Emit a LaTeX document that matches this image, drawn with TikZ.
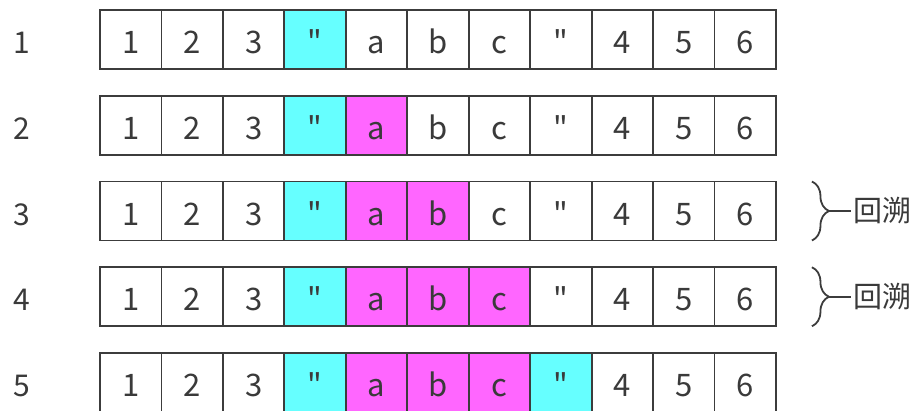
\documentclass[tikz,border=0pt]{standalone}
\usepackage{fontspec}
\newfontfamily\cellfont{Noto Sans CJK SC}
\usetikzlibrary{positioning,decorations.pathreplacing}
\definecolor{quotecyan}{HTML}{66FFFF}
\definecolor{pickpink}{HTML}{FF66FF}
\definecolor{linegray}{HTML}{3C3C3C}
\definecolor{textgray}{HTML}{3A3A3A}

\begin{document}
\begin{tikzpicture}[
  x=1pt,y=-1pt,
  cell/.style={draw=linegray,line width=1.8pt,minimum width=61.45pt,minimum height=59pt,
    inner sep=0pt,outer sep=0pt,text height=28pt,text depth=0pt,text=textgray,
    font=\cellfont\fontsize{31}{36}\selectfont},
  rowno/.style={inner sep=0pt,text height=28pt,text depth=0pt,text=textgray,
    font=\cellfont\fontsize{30}{36}\selectfont},
  tag/.style={inner sep=2pt,text=textgray,font=\cellfont\fontsize{29}{34}\selectfont},
  brace/.style={decorate,decoration={brace,amplitude=17pt},draw=linegray,line width=1.8pt},
  link/.style={draw=linegray,line width=1.8pt}
]
\useasboundingbox (0,0) rectangle (918,410);

% five rows: row, pink cells, closing quote found
\foreach \r/\m/\q in {1/0/0,2/1/0,3/2/0,4/3/0,5/3/1}{
  \pgfmathsetmacro\top{10+85.75*(\r-1)}
  \node[rowno] (n\r) at (22,\top+29.5) {\r};
  \foreach \t [count=\c, remember=\c as \p (initially 0)] in {1,2,3,",a,b,c,",4,5,6}{
    \def\fillc{white}
    \ifnum\c=4 \def\fillc{quotecyan}\fi
    \ifnum\c=8 \ifnum\q=1 \def\fillc{quotecyan}\fi\fi
    \ifnum\c>4 \ifnum\c<\numexpr5+\m\relax \def\fillc{pickpink}\fi\fi
    \ifnum\c=1
      \node[cell,fill=\fillc,anchor=north west] (c\r-\c) at (100,\top) {\t};
    \else
      \node[cell,fill=\fillc,right=0pt of c\r-\p] (c\r-\c) {\t};
    \fi
  }
}

% backtracking marks
\foreach \r in {3,4}{
  \draw[brace] ([xshift=36pt]c\r-11.north east) -- ([xshift=36pt]c\r-11.south east);
  \coordinate (tip\r) at ([xshift=53pt]c\r-11.east);
  \node[tag,anchor=west] (back\r) at ([xshift=75pt]c\r-11.east) {回溯};
  \draw[link] (tip\r) -- (back\r.west);
}
\end{tikzpicture}
\end{document}
